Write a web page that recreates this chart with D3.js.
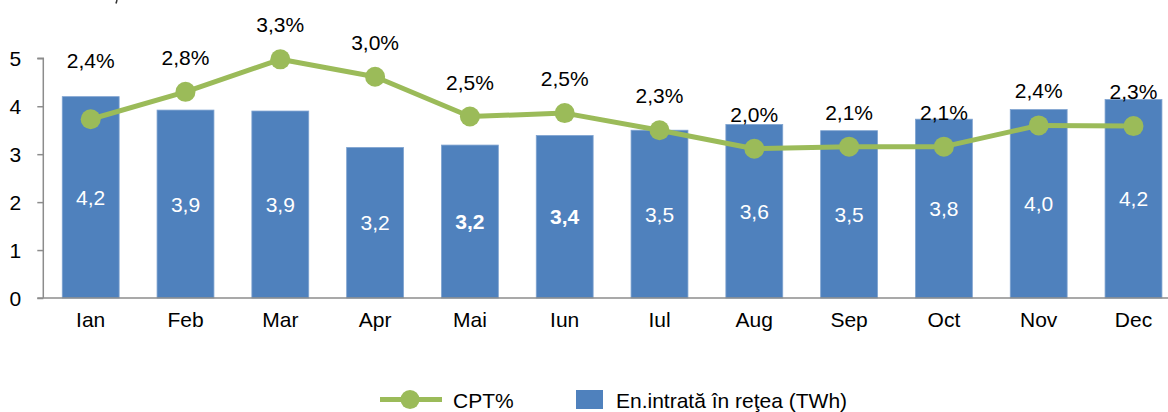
<!DOCTYPE html>
<html>
<head>
<meta charset="utf-8">
<script src="https://cdn.jsdelivr.net/npm/d3@7/dist/d3.min.js"></script>
<style>
  html, body { margin: 0; padding: 0; background: #fff; }
  svg { display: block; font-family: "Liberation Sans", Arial, sans-serif; }
</style>
</head>
<body>
<svg id="chart" width="1168" height="412"></svg>
<script>
// ---- data ----
const months = ["Ian", "Feb", "Mar", "Apr", "Mai", "Iun", "Iul", "Aug", "Sep", "Oct", "Nov", "Dec"];
const energyTWh = [4.20, 3.92, 3.90, 3.14, 3.19, 3.39, 3.50, 3.62, 3.49, 3.73, 3.93, 4.14];
const energyLabels = ["4,2", "3,9", "3,9", "3,2", "3,2", "3,4", "3,5", "3,6", "3,5", "3,8", "4,0", "4,2"];
const boldEnergyLabels = ["Mai", "Iun"];
const cptPct = [2.41, 2.81, 3.285, 3.03, 2.45, 2.50, 2.25, 1.98, 2.01, 2.01, 2.32, 2.31];
const cptLabels = ["2,4%", "2,8%", "3,3%", "3,0%", "2,5%", "2,5%", "2,3%", "2,0%", "2,1%", "2,1%", "2,4%", "2,3%"];
const yTicks = [0, 1, 2, 3, 4, 5];
const legendLine = "CPT%";
const legendBar = "En.intrată în reţea (TWh)";

// ---- layout ----
const svg = d3.select("#chart");
const plotLeft = 43.3, plotBottom = 298, plotTop = 58.3;
const step = 94.8;
const fs = 21;
const blue = "#4F81BD", green = "#9BBB59", axisGray = "#8C8C8C";

const x = d3.scaleBand().domain(months)
  .range([plotLeft, plotLeft + step * months.length])
  .paddingInner(0.4).paddingOuter(0.2);
const y = d3.scaleLinear().domain([0, 5]).range([plotBottom, plotTop]);
const y2 = d3.scaleLinear().domain([-0.2, 3.3]).range([plotBottom, plotTop]);

// tiny cut-off stroke at the very top (remnant of text above the frame)
svg.append("path").attr("d", "M117,0 L116,3.5").attr("stroke", "#333").attr("stroke-width", 1.5);

// bars
svg.append("g").selectAll("rect").data(months).join("rect")
  .attr("x", d => x(d))
  .attr("y", (d, i) => y(energyTWh[i]))
  .attr("width", x.bandwidth())
  .attr("height", (d, i) => y(0) - y(energyTWh[i]))
  .attr("fill", blue)
  .attr("stroke", "#7FA3D0").attr("stroke-width", 0.8);

// bar labels
svg.append("g").selectAll("text").data(months).join("text")
  .attr("x", d => x(d) + x.bandwidth() / 2)
  .attr("y", (d, i) => (y(energyTWh[i]) + y(0)) / 2 + 7.5)
  .attr("text-anchor", "middle")
  .attr("font-size", fs)
  .attr("font-weight", d => boldEnergyLabels.includes(d) ? "bold" : "normal")
  .attr("fill", "#fff")
  .text((d, i) => energyLabels[i]);

// y axis
const yAxis = d3.axisLeft(y).tickValues(yTicks).tickSize(6).tickFormat(d3.format("d"));
const gy = svg.append("g").attr("transform", `translate(${plotLeft},0)`).call(yAxis);
gy.select(".domain").attr("stroke", axisGray).attr("stroke-width", 1.5).attr("d", `M-6,${plotTop}H0V${plotBottom}`);
gy.selectAll(".tick line").attr("stroke", axisGray).attr("stroke-width", 1.5);
gy.selectAll(".tick text").attr("x", -22).attr("dy", "0.35em")
  .attr("font-size", fs).attr("fill", "#000")
  .attr("font-family", "Liberation Sans, Arial, sans-serif");

// x axis baseline and labels
const xAxis = d3.axisBottom(x).tickSize(0).tickPadding(0);
const gx = svg.append("g").attr("transform", `translate(0,${plotBottom})`).call(xAxis);
gx.select(".domain").attr("stroke", axisGray).attr("stroke-width", 1.5).attr("d", `M${plotLeft - 6},0H1168`);
gx.selectAll(".tick text").attr("y", 28.5).attr("dy", 0)
  .attr("font-size", fs).attr("fill", "#000")
  .attr("font-family", "Liberation Sans, Arial, sans-serif");

// line
const line = d3.line()
  .x((d, i) => x(months[i]) + x.bandwidth() / 2)
  .y(d => y2(d));
svg.append("path").datum(cptPct)
  .attr("d", line).attr("fill", "none")
  .attr("stroke", green).attr("stroke-width", 5).attr("stroke-linejoin", "round");
svg.append("g").selectAll("circle").data(cptPct).join("circle")
  .attr("cx", (d, i) => x(months[i]) + x.bandwidth() / 2)
  .attr("cy", d => y2(d))
  .attr("r", 10)
  .attr("fill", green);

// line labels
svg.append("g").selectAll("text").data(cptPct).join("text")
  .attr("x", (d, i) => x(months[i]) + x.bandwidth() / 2)
  .attr("y", (d, i) => y2(d) - (i === 0 ? 51 : 27))
  .attr("text-anchor", "middle")
  .attr("font-size", fs).attr("fill", "#000")
  .text((d, i) => cptLabels[i]);

// legend
const lg = svg.append("g");
lg.append("line").attr("x1", 380).attr("x2", 442).attr("y1", 399.5).attr("y2", 399.5)
  .attr("stroke", green).attr("stroke-width", 5);
lg.append("circle").attr("cx", 410).attr("cy", 399.5).attr("r", 9.5).attr("fill", green);
lg.append("text").attr("x", 453).attr("y", 408).attr("font-size", fs).attr("fill", "#000").text(legendLine);
lg.append("rect").attr("x", 576).attr("y", 390).attr("width", 27).attr("height", 19).attr("fill", blue);
lg.append("text").attr("x", 616).attr("y", 408).attr("font-size", fs).attr("fill", "#000").text(legendBar);
</script>
</body>
</html>
